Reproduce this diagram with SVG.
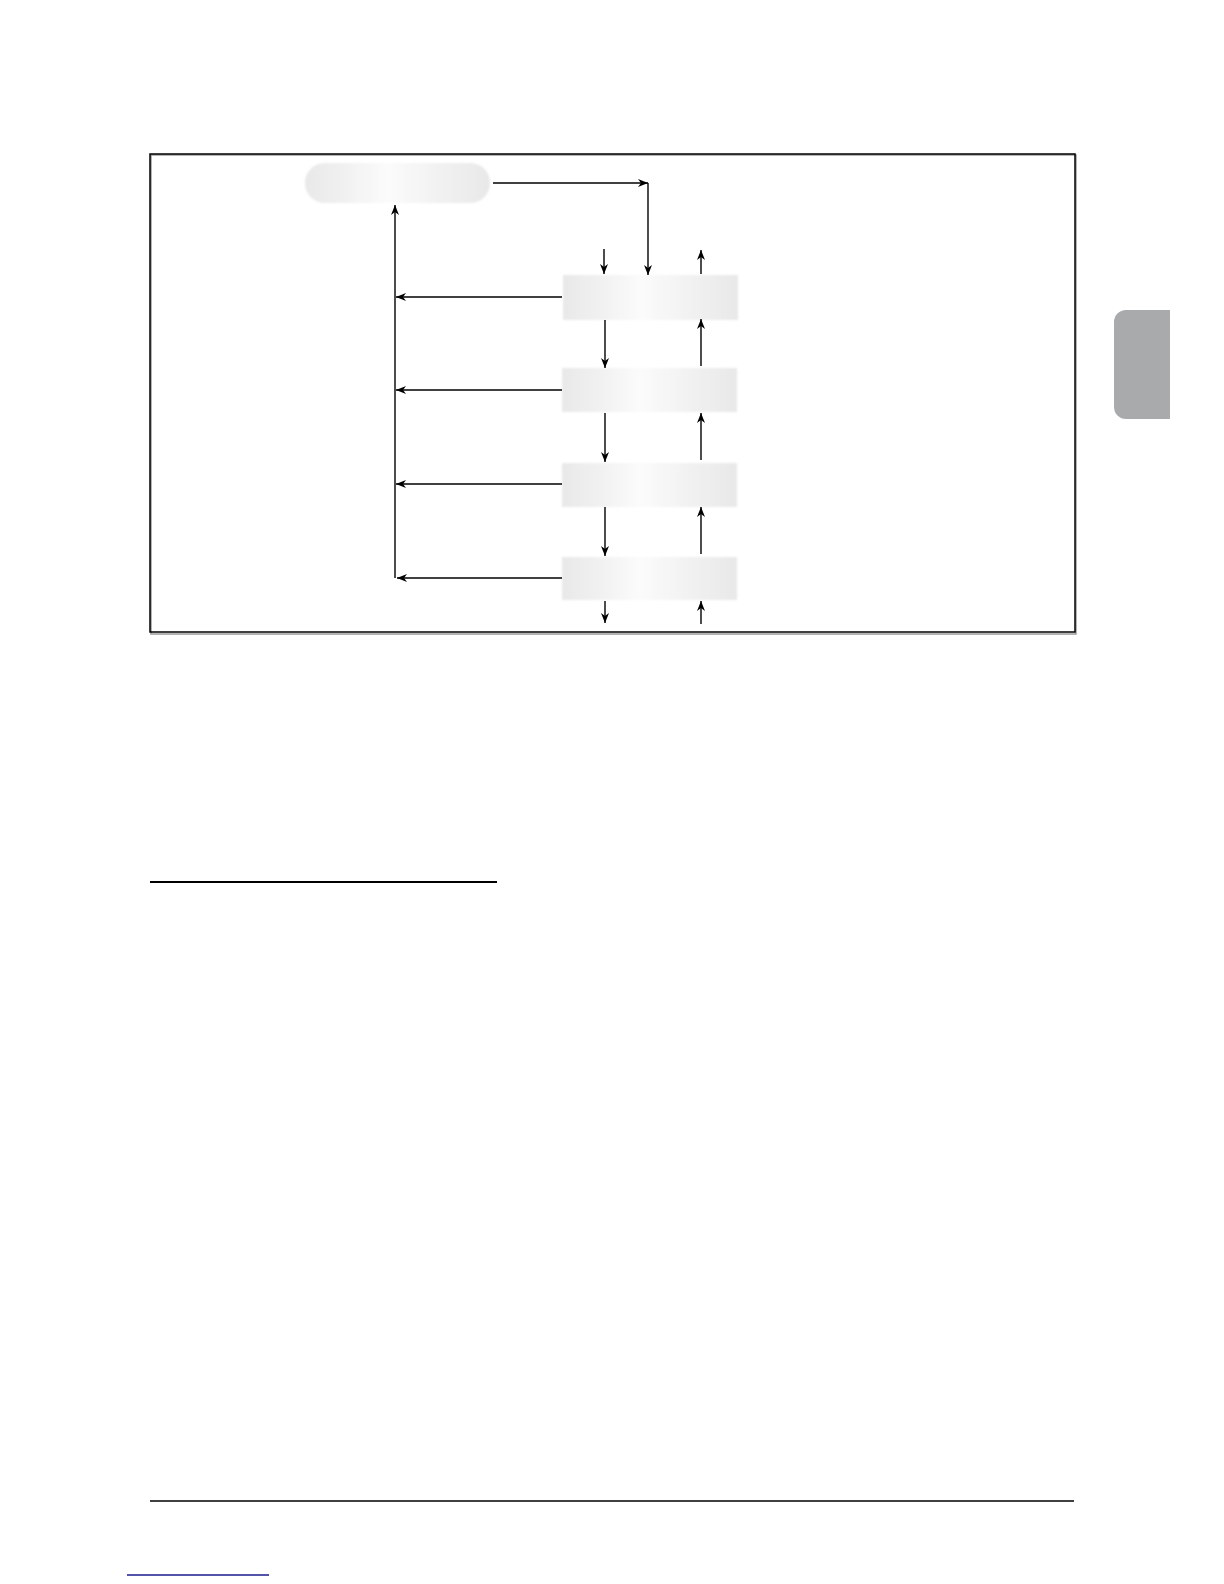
<svg xmlns="http://www.w3.org/2000/svg" width="1224" height="1584" viewBox="0 0 1224 1584">
<style>
.conn{stroke:#000;stroke-width:1.4;fill:none}
.arr{marker-end:url(#ah)}
.box{fill:url(#gb);filter:url(#soft)}
</style>
<defs>
<marker id="ah" markerUnits="userSpaceOnUse" markerWidth="12" markerHeight="10" refX="10" refY="4" orient="auto" viewBox="0 0 12 10">
<path d="M0,0 L10,4 L0,8 L3,4 z" fill="#000"/>
</marker>
<linearGradient id="gb" x1="0" y1="0" x2="1" y2="0">
<stop offset="0" stop-color="#e8e8e8"/>
<stop offset="0.45" stop-color="#fbfbfb"/>
<stop offset="1" stop-color="#e8e8e8"/>
</linearGradient>
<filter id="soft" x="-5%" y="-10%" width="110%" height="120%">
<feGaussianBlur stdDeviation="1"/>
</filter>
</defs>
<rect width="1224" height="1584" fill="#fff"/>
<g id="frame">
<rect x="151" y="155" width="925" height="479" fill="none" stroke="#9a9a9a" stroke-width="1.5"/>
<rect x="150" y="154" width="925" height="478" fill="none" stroke="#000" stroke-width="1.5"/>
</g>
<g id="node-top"><rect class="box" x="305" y="163" width="185" height="40" rx="20" ry="20"/></g>
<g id="node-1"><rect class="box" x="563" y="275" width="175" height="45"/></g>
<g id="node-2"><rect class="box" x="562" y="368" width="175" height="44"/></g>
<g id="node-3"><rect class="box" x="562" y="463" width="175" height="44"/></g>
<g id="node-4"><rect class="box" x="562" y="557" width="175" height="43"/></g>
<g id="connectors">
<line class="conn arr" x1="493" y1="183" x2="648" y2="183"/>
<line class="conn arr" x1="648" y1="183" x2="648" y2="275"/>
<line class="conn arr" x1="604" y1="249" x2="604" y2="274"/>
<line class="conn arr" x1="701" y1="274" x2="701" y2="250"/>
<line class="conn arr" x1="605" y1="320" x2="605" y2="368"/>
<line class="conn arr" x1="701" y1="366" x2="701" y2="319"/>
<line class="conn arr" x1="605" y1="413" x2="605" y2="462"/>
<line class="conn arr" x1="701" y1="460" x2="701" y2="413"/>
<line class="conn arr" x1="605" y1="507" x2="605" y2="556"/>
<line class="conn arr" x1="701" y1="554" x2="701" y2="507"/>
<line class="conn arr" x1="605" y1="601" x2="605" y2="623"/>
<line class="conn arr" x1="701" y1="624" x2="701" y2="601"/>
<line class="conn arr" x1="562" y1="297" x2="396" y2="297"/>
<line class="conn arr" x1="562" y1="390" x2="396" y2="390"/>
<line class="conn arr" x1="562" y1="484" x2="396" y2="484"/>
<line class="conn arr" x1="562" y1="578" x2="397" y2="578"/>
<line class="conn arr" x1="395" y1="578" x2="395" y2="205"/>
</g>
<g id="tab"><path d="M1126,310 H1170 V419 H1126 A12,12 0 0 1 1114,407 V322 A12,12 0 0 1 1126,310 Z" fill="#a8aaac"/></g>
<line x1="150" y1="882" x2="497" y2="882" stroke="#000" stroke-width="2.2"/>
<line x1="150" y1="1501" x2="1074" y2="1501" stroke="#000" stroke-width="1.6"/>
<line x1="127" y1="1575" x2="269" y2="1575" stroke="#1a1a8c" stroke-width="1.3"/>
</svg>
